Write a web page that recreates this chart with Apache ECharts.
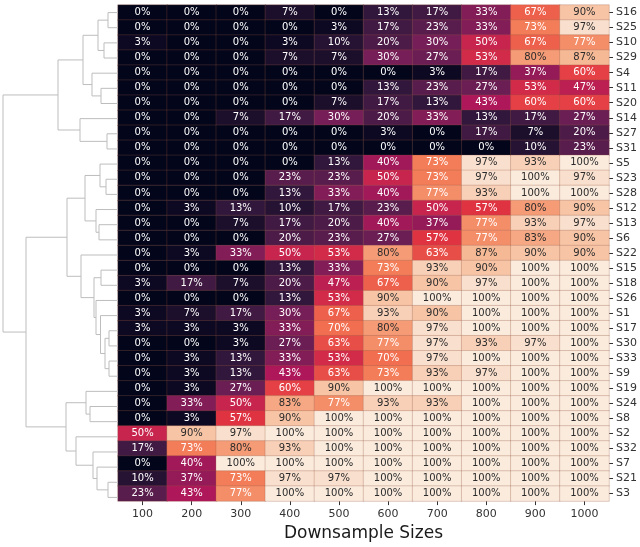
<!DOCTYPE html>
<html>
<head>
<meta charset="utf-8">
<script src="https://cdn.jsdelivr.net/npm/echarts@6/dist/echarts.min.js"></script>
<style>
html,body{margin:0;padding:0;background:#fff;}
#chart{width:640px;height:547px;}
</style>
</head>
<body>
<div id="chart"></div>
<script>
// Column labels (downsample sizes)
const sizes = ['100','200','300','400','500','600','700','800','900','1000'];
// Row labels, top to bottom (dendrogram leaf order)
const samples = ['S16','S25','S10','S29','S4','S11','S20','S14','S27','S31',
  'S5','S23','S28','S12','S13','S6','S22','S15','S18','S26',
  'S1','S17','S30','S33','S9','S19','S24','S8','S2','S32','S7','S21','S3'];

// Percent values per downsample size, in the row order above
const v100  = [0,0,3,0,0,0,0,0,0,0, 0,0,0,0,0,0,0,0,3,0, 3,3,0,0,0,0,0,0,50,17,0,10,23];
const v200  = [0,0,0,0,0,0,0,0,0,0, 0,0,0,3,0,0,3,0,17,0, 7,3,0,3,3,3,33,3,90,73,40,37,43];
const v300  = [0,0,0,0,0,0,0,7,0,0, 0,0,0,13,7,0,33,0,7,0, 17,3,3,13,13,27,50,57,97,80,100,73,77];
const v400  = [7,0,3,7,0,0,0,17,0,0, 0,23,13,10,17,20,50,13,20,13, 30,33,27,33,43,60,83,90,100,93,100,97,100];
const v500  = [0,3,10,7,0,0,7,30,0,0, 13,23,33,17,20,23,53,33,47,53, 67,70,63,53,63,90,77,100,100,100,100,97,100];
const v600  = [13,17,20,30,0,13,17,20,3,0, 40,50,40,23,40,27,80,73,67,90, 93,80,77,70,73,100,93,100,100,100,100,100,100];
const v700  = [17,23,30,27,3,23,13,33,0,0, 73,73,77,50,37,57,63,93,90,100, 90,97,97,97,93,100,93,100,100,100,100,100,100];
const v800  = [33,33,50,53,17,27,43,13,17,0, 97,97,93,57,77,77,87,90,97,100, 100,100,93,100,97,100,100,100,100,100,100,100,100];
const v900  = [67,73,67,80,37,53,60,17,7,10, 93,100,100,80,93,83,90,100,100,100, 100,100,97,100,100,100,100,100,100,100,100,100,100];
const v1000 = [90,97,77,87,60,47,60,27,20,23, 100,97,100,90,97,90,90,100,100,100, 100,100,100,100,100,100,100,100,100,100,100,100,100];
const columns = [v100,v200,v300,v400,v500,v600,v700,v800,v900,v1000];

// Hierarchical clustering merges: [childA, childB, height]; numbers refer to earlier merges
const linkage = [
  ['S16','S25',10],  // 0
  ['S10','S29',14],  // 1
  [0,1,20],          // 2
  ['S11','S20',17],  // 3
  ['S4',3,26],       // 4
  [2,4,35],          // 5
  ['S27','S31',11],  // 6
  ['S14',6,38],      // 7
  [5,7,60],          // 8
  ['S23','S28',12],  // 9
  ['S5',9,18],       // 10
  ['S13','S6',19],   // 11
  ['S12',11,22],     // 12
  [10,12,33],        // 13
  ['S15','S18',17],  // 14
  ['S17','S30',9],   // 15
  ['S33','S9',9],    // 16
  [15,16,13],        // 17
  ['S1',17,17.5],    // 18
  ['S26',18,22],     // 19
  [14,19,24],        // 20
  ['S22',20,37],     // 21
  [13,21,51],        // 22
  ['S24','S8',28],   // 23
  ['S19',23,32],     // 24
  ['S21','S3',10],   // 25
  ['S7',25,21],      // 26
  ['S32',26,25],     // 27
  ['S2',27,42],      // 28
  [24,28,52],        // 29
  [22,29,92],        // 30
  [8,30,115]         // 31
];

// rocket colormap
const rocket = ['#03051a','#35193e','#701f57','#ad1759','#e13342','#f37651','#f6b48f','#faebdd'];

// Build heatmap data
const heatData = [];
columns.forEach((col, ci) => {
  col.forEach((v, ri) => {
    heatData.push({
      value: [ci, ri, v],
      label: { color: v >= 79 ? '#2b2b2b' : '#ffffff' }
    });
  });
});

// Build dendrogram polylines
const nodePos = linkage.map(() => null);
function pos(ref) {
  if (typeof ref === 'string') return { h: 0, y: samples.indexOf(ref) + 0.5 };
  return nodePos[ref];
}
const dendroLines = [];
linkage.forEach((m, i) => {
  const a = pos(m[0]), b = pos(m[1]), h = m[2];
  nodePos[i] = { h: h, y: (a.y + b.y) / 2 };
  dendroLines.push({ coords: [[a.h, a.y], [h, a.y], [h, b.y], [b.h, b.y]] });
});

const FONT = 'DejaVu Sans';
const chart = echarts.init(document.getElementById('chart'), null, { renderer: 'canvas' });
chart.setOption({
  animation: false,
  backgroundColor: '#ffffff',
  textStyle: { fontFamily: FONT },
  grid: [
    { left: 118, top: 5, width: 493, height: 500 },
    { left: 0, top: 5, width: 118, height: 500 }
  ],
  xAxis: [
    {
      type: 'category', data: sizes, gridIndex: 0, position: 'bottom',
      axisLine: { show: false },
      axisTick: { show: true, alignWithLabel: true, length: 4, lineStyle: { color: '#333', width: 1 } },
      axisLabel: { fontSize: 11, color: '#333', margin: 8, fontFamily: FONT },
      splitLine: { show: false },
      name: 'Downsample Sizes', nameLocation: 'middle', nameGap: 19,
      nameTextStyle: { fontSize: 17, color: '#1a1a1a', fontFamily: FONT }
    },
    {
      type: 'value', gridIndex: 1, min: 0, max: 118, inverse: true, show: false
    }
  ],
  yAxis: [
    {
      type: 'category', data: samples, gridIndex: 0, position: 'right', inverse: true,
      axisLine: { show: false },
      axisTick: { show: true, alignWithLabel: true, length: 4, lineStyle: { color: '#333', width: 1 } },
      axisLabel: { fontSize: 11, color: '#333', margin: 7, fontFamily: FONT },
      splitLine: { show: false }
    },
    {
      type: 'value', gridIndex: 1, min: 0, max: 33, inverse: true, show: false
    }
  ],
  visualMap: {
    show: false, type: 'continuous', min: 0, max: 100, dimension: 2, seriesIndex: 0,
    inRange: { color: rocket }
  },
  series: [
    {
      type: 'heatmap', xAxisIndex: 0, yAxisIndex: 0, data: heatData,
      itemStyle: { borderColor: 'rgba(150,90,70,0.28)', borderWidth: 1 },
      label: {
        show: true, fontSize: 10, fontFamily: FONT,
        formatter: p => p.value[2] + '%'
      },
      emphasis: { disabled: true }
    },
    {
      type: 'lines', coordinateSystem: 'cartesian2d', xAxisIndex: 1, yAxisIndex: 1,
      polyline: true, silent: true, data: dendroLines,
      lineStyle: { color: '#bdbdbd', width: 1, opacity: 1 }
    }
  ]
});
</script>
</body>
</html>
